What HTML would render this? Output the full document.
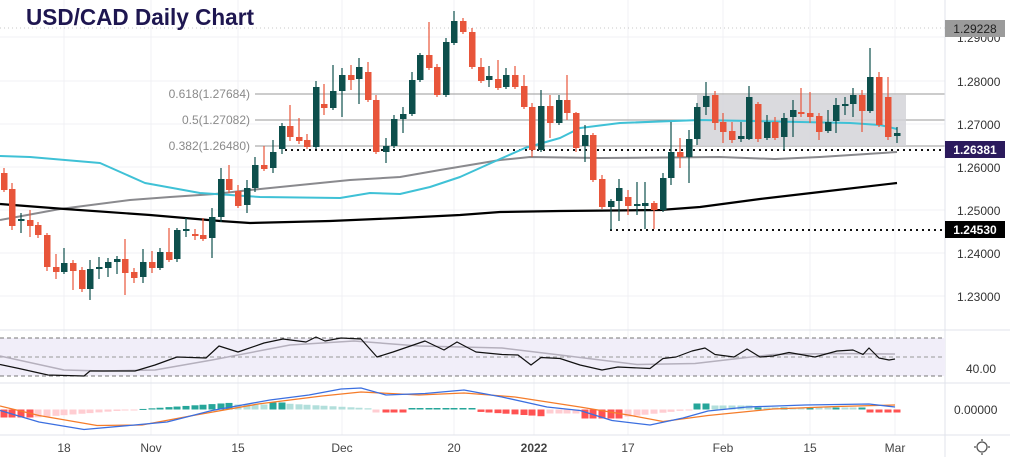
<!DOCTYPE html>
<html><head><meta charset="utf-8">
<style>
html,body{margin:0;padding:0;background:#fff;}
svg{display:block;font-family:"Liberation Sans",sans-serif;}
</style></head>
<body>
<svg id="c" width="1010" height="457" viewBox="0 0 1010 457" xmlns="http://www.w3.org/2000/svg">
<rect width="1010" height="457" fill="#fff"/>
<g id="grid" stroke="#f0f1f4" stroke-width="1"></g>
<line x1="255" y1="94" x2="945" y2="94" stroke="#9a9a9a" stroke-width="1"/>
<line x1="255" y1="120" x2="945" y2="120" stroke="#9a9a9a" stroke-width="1"/>
<line x1="255" y1="146" x2="945" y2="146" stroke="#9a9a9a" stroke-width="1"/>
<rect x="697" y="95" width="209" height="51" fill="#d4d4d8" opacity="0.85"/>
<line x1="0" y1="28" x2="945" y2="28" stroke="#c8c8c8" stroke-width="1" stroke-dasharray="1,3"/>
<line x1="285" y1="150" x2="945" y2="150" stroke="#111" stroke-width="2" stroke-dasharray="2,4"/>
<line x1="610" y1="230" x2="945" y2="230" stroke="#111" stroke-width="2" stroke-dasharray="2,4"/>
<text x="250" y="98" font-size="12" fill="#8a8a8a" text-anchor="end">0.618(1.27684)</text>
<text x="250" y="124" font-size="12" fill="#8a8a8a" text-anchor="end">0.5(1.27082)</text>
<text x="250" y="150" font-size="12" fill="#8a8a8a" text-anchor="end">0.382(1.26480)</text>
<g id="mas" fill="none"></g>
<g id="candles"></g>
<text x="26" y="25" font-size="23" font-weight="bold" fill="#1e1650" textLength="228" lengthAdjust="spacingAndGlyphs">USD/CAD Daily Chart</text>
<line x1="0" y1="330" x2="1010" y2="330" stroke="#e0e3eb"/>
<line x1="0" y1="383" x2="1010" y2="383" stroke="#e0e3eb"/>
<line x1="0" y1="435" x2="1010" y2="435" stroke="#e0e3eb"/>
<line x1="945" y1="0" x2="945" y2="457" stroke="#e0e3eb"/>
<rect x="0" y="338" width="945" height="38" fill="#f1eef9"/>
<line x1="0" y1="338" x2="945" y2="338" stroke="#777" stroke-dasharray="4,3"/>
<line x1="0" y1="357" x2="945" y2="357" stroke="#999" stroke-dasharray="4,3"/>
<line x1="0" y1="376" x2="945" y2="376" stroke="#777" stroke-dasharray="4,3"/>
<g id="ind" fill="none"></g>
<g font-size="12" fill="#333" text-anchor="start">
<text x="957" y="42">1.29000</text>
<text x="957" y="86">1.28000</text>
<text x="957" y="129">1.27000</text>
<text x="957" y="172">1.26000</text>
<text x="957" y="215">1.25000</text>
<text x="957" y="258">1.24000</text>
<text x="957" y="301">1.23000</text>
<text x="966" y="373">40.00</text>
<text x="954" y="414">0.00000</text>
</g>
<rect x="945" y="20" width="60" height="17" fill="#9b9b9b"/>
<text x="975" y="33" font-size="12" fill="#222" text-anchor="middle">1.29228</text>
<rect x="945" y="141" width="60" height="17" fill="#2b1a5c"/>
<text x="975" y="154" font-size="12" font-weight="bold" fill="#fff" text-anchor="middle">1.26381</text>
<rect x="945" y="221" width="60" height="17" fill="#000"/>
<text x="975" y="234" font-size="12" font-weight="bold" fill="#fff" text-anchor="middle">1.24530</text>
<g font-size="12" fill="#444" text-anchor="middle">
<text x="64" y="452">18</text><text x="151" y="452">Nov</text><text x="238" y="452">15</text>
<text x="342" y="452">Dec</text><text x="454" y="452">20</text><text x="534" y="452" font-weight="bold">2022</text>
<text x="628" y="452">17</text><text x="723" y="452">Feb</text><text x="810" y="452">15</text><text x="895" y="452">Mar</text>
</g>
<circle cx="982" cy="447" r="5" fill="none" stroke="#555" stroke-width="1.3"/>
<g stroke="#555" stroke-width="1.3"><line x1="982" y1="439" x2="982" y2="441"/><line x1="982" y1="453" x2="982" y2="455"/><line x1="974" y1="447" x2="976" y2="447"/><line x1="988" y1="447" x2="990" y2="447"/></g>
</svg>
<script>
var NS="http://www.w3.org/2000/svg";
function el(p,t,a){var e=document.createElementNS(NS,t);for(var k in a)e.setAttribute(k,a[k]);p.appendChild(e);return e;}
var grid=document.getElementById('grid');
[64,151,238,342,454,534,628,723,810,895].forEach(function(x){el(grid,'line',{x1:x,y1:0,x2:x,y2:435});});
[37,81,124,167,210,253,296].forEach(function(y){el(grid,'line',{x1:0,y1:y,x2:945,y2:y});});
function pl(g,pts,col,w){el(g,'polyline',{points:pts.map(function(p){return p.join(',')}).join(' '),stroke:col,'stroke-width':w,fill:'none','stroke-linejoin':'round'});}
var mas=document.getElementById('mas');
pl(mas,[[0,220],[60,209],[130,200],[170,197],[215,194],[250,190],[300,185],[350,180],[400,177],[440,170],[470,165],[500,160],[530,157],[600,158],[720,157],[775,159],[820,157],[897,152]],'#8a8a8e',2);
pl(mas,[[0,156],[30,157],[100,163],[145,183],[200,193],[260,197],[340,198],[370,193],[400,194],[430,187],[460,177],[500,159],[525,148],[560,138],[580,128],[620,123],[700,120],[800,122],[850,123],[880,125],[897,129]],'#3fc1d6',2);
pl(mas,[[0,204],[65,209],[150,215],[220,221],[250,223],[330,221],[400,218],[460,215],[500,212],[560,211],[660,210],[700,207],[760,199],[820,192],[897,183]],'#000',2.2);
var C=[
[4,173,190,168,192,'r'],[12,189,226,183,230,'r'],[21,219,221,213,233,'g'],[30,220,226,210,237,'r'],[38,225,235,222,238,'r'],[47,235,267,233,271,'r'],[56,267,272,254,279,'r'],[64,263,272,248,274,'g'],[73,263,271,260,290,'r'],[82,270,289,267,292,'r'],[90,269,289,260,300,'g'],[99,267,269,257,279,'g'],[108,262,268,258,277,'g'],[117,259,262,256,274,'g'],[125,259,273,239,295,'r'],[134,272,278,268,283,'r'],[143,262,277,249,283,'g'],[152,262,268,251,273,'r'],[160,252,268,248,270,'g'],[169,252,260,228,262,'r'],[177,230,259,228,262,'g'],[186,229,231,218,237,'g'],[195,234,236,229,240,'r'],[203,235,239,218,241,'r'],[212,217,238,208,258,'g'],[221,179,217,168,222,'g'],[229,179,190,165,193,'r'],[238,191,206,185,208,'r'],[247,188,205,180,213,'g'],[255,165,188,157,192,'g'],[264,165,169,146,171,'r'],[273,152,168,140,173,'g'],[282,126,149,123,154,'g'],[290,126,137,105,141,'r'],[299,137,141,118,144,'r'],[307,140,147,134,149,'r'],[316,87,147,81,149,'g'],[324,104,108,84,115,'r'],[333,91,108,65,110,'g'],[342,75,91,68,117,'g'],[351,75,80,65,90,'r'],[359,67,79,58,104,'g'],[368,72,100,62,102,'r'],[376,100,152,95,154,'r'],[386,146,152,138,163,'g'],[394,119,146,115,148,'g'],[403,114,119,107,133,'g'],[412,80,114,72,116,'g'],[420,55,80,53,82,'g'],[429,55,68,22,70,'r'],[437,67,95,64,97,'r'],[446,42,95,38,97,'g'],[454,21,43,11,45,'g'],[463,21,32,18,34,'r'],[472,32,67,28,69,'r'],[481,67,81,58,83,'r'],[489,76,80,66,87,'g'],[498,79,88,60,90,'r'],
[506,75,87,68,89,'g'],[515,75,87,66,89,'r'],[524,86,107,75,109,'r'],[532,107,150,103,157,'r'],[541,106,150,90,152,'g'],[550,106,123,95,138,'r'],[559,100,123,95,125,'g'],[567,100,113,75,120,'r'],[576,113,148,112,152,'r'],[585,135,146,125,162,'g'],[593,135,180,133,182,'r'],[602,179,207,175,209,'r'],[611,201,207,199,230,'g'],[619,188,201,179,221,'g'],[628,197,206,190,215,'r'],[637,204,206,182,215,'g'],[645,203,206,182,229,'g'],[654,203,210,201,229,'r'],[663,178,210,173,212,'g'],[671,152,178,122,185,'g'],[680,152,157,138,168,'r'],[689,139,157,130,183,'g'],[697,107,139,103,145,'g'],[706,96,107,82,115,'g'],[715,95,123,91,130,'r'],[723,122,132,113,143,'r'],[732,131,140,122,143,'r'],[741,136,139,122,142,'g'],[749,97,139,86,140,'g'],[758,104,139,102,142,'r'],[767,122,138,115,140,'g'],[775,122,138,117,140,'r'],[784,118,137,113,150,'g'],[793,110,117,100,137,'g'],[801,112,114,88,117,'r'],[810,113,117,92,123,'r'],[819,116,132,113,140,'r'],[828,122,131,110,133,'g'],[836,105,121,98,133,'g'],[845,104,106,97,115,'g'],[853,95,104,88,117,'g'],[862,95,111,90,132,'r'],[870,77,111,48,113,'g'],[879,77,125,72,127,'r'],[888,97,137,77,140,'r'],[897,133,136,127,143,'g']];
var cg=document.getElementById('candles');
C.forEach(function(c){var col=c[5]=='g'?'#0d4f4c':'#e8553a';
el(cg,'line',{x1:c[0],y1:c[3],x2:c[0],y2:c[4],stroke:col,'stroke-width':1.2});
el(cg,'rect',{x:c[0]-3,y:c[1],width:6.5,height:Math.max(2,c[2]-c[1]),fill:col});});
var ind=document.getElementById('ind');
var Z=409.5;
C.forEach(function(c,i){var x=c[0],h,col;
if(x<35){h=8;col='#ff5252';}
else if(x<135){h=8*(135-x)/100;col='#ffcdd2';}
else if(x<235){h=-(x-135)/100*7;col='#26a69a';}
else if(x<265){h=-5;col='#b2dfdb';}
else if(x<285){h=-7;col='#26a69a';}
else if(x<372){h=-6+(x-285)/87*5;col='#b2dfdb';}
else if(x<405){h=3;col=x<385?'#ffcdd2':'#ff5252';}
else if(x<475){h=-1.5;col='#26a69a';}
else if(x<545){h=2+(x-475)/70*5;col='#ff5252';}
else if(x<585){h=4;col='#ffcdd2';}
else if(x<620){h=9;col='#ff5252';}
else if(x<692){h=8*(692-x)/72;col='#ffcdd2';}
else if(x<710){h=-6;col='#26a69a';}
else if(x<750){h=-4;col='#b2dfdb';}
else if(x<870){h=-2;col=(i%3==0)?'#26a69a':'#b2dfdb';}
else {h=3;col='#ff5252';}
var y=h>0?Z:Z+h;el(ind,'rect',{x:x-3.5,y:y,width:7,height:Math.max(1,Math.abs(h)),fill:col});});
pl(ind,[[0,406],[39,415.5],[97,425.5],[142,425],[193,415.5],[258,404],[322,396],[361,392],[419,395],[464,393],[515,397],[580,407],[631,415.5],[663,421.5],[708,415.5],[773,409],[837,406.5],[895,405]],'#f57c2a',1.3);
pl(ind,[[0,410.5],[39,422],[84,429.5],[129,425.5],[167,422],[212,410.5],[270,400],[309,395],[341,389],[361,388],[386,395],[425,393.5],[464,390],[502,397],[547,407],[580,410.5],[612,420.5],[650,425],[683,418],[708,411],[747,407],[805,405],[869,404],[895,407]],'#3b6fe0',1.3);
pl(ind,[[0,356],[64,370],[103,371],[155,370],[212,360],[290,345],[354,341],[419,346],[502,348],[560,355],[637,364.5],[695,363.5],[773,354.5],[837,353.5],[895,354]],'#b5b0bd',1.5);
pl(ind,[[0,364.5],[19,368.5],[48,375],[84,376],[90,371],[135,371],[155,365],[177,357],[206,358],[219,346],[238,352],[264,343],[283,339],[306,342],[316,337],[325,341],[341,338],[361,339],[377,357],[393,352],[425,341],[444,350],[457,342],[476,352],[502,354.5],[518,355],[531,365],[541,357.5],[560,358.5],[580,365],[602,370],[618,367],[650,368.5],[663,358.5],[676,357],[692,351],[705,348],[715,354.5],[734,357],[747,349],[760,357],[773,356],[789,352.5],[815,357],[837,351],[853,350],[863,354.5],[869,348],[879,358],[889,360],[895,359]],'#111',1.2);
</script>
</body></html>
